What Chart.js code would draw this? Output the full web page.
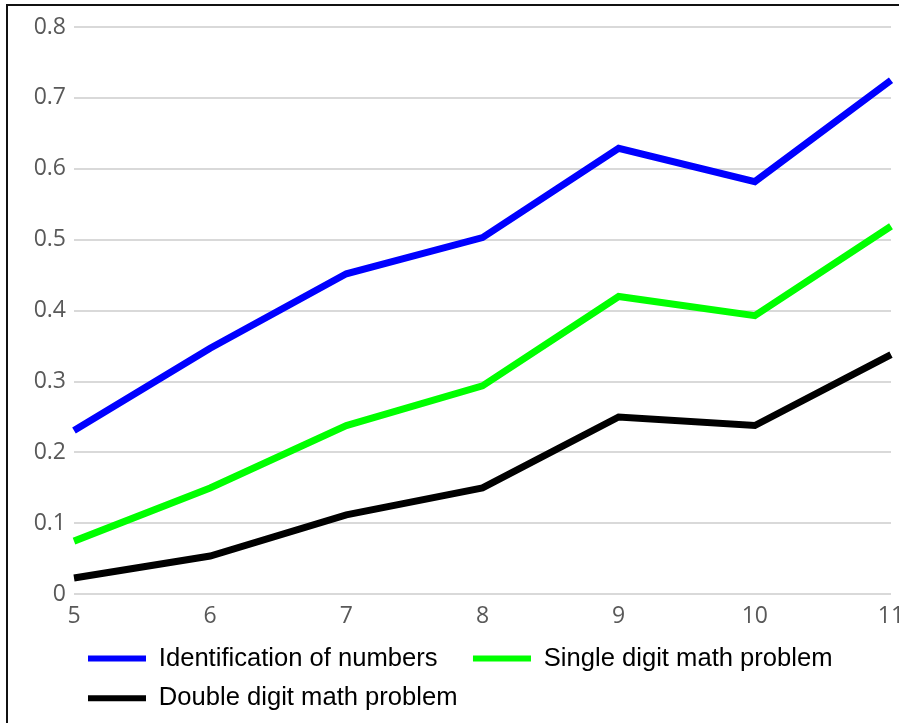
<!DOCTYPE html>
<html>
<head>
<meta charset="utf-8">
<script src="https://cdn.jsdelivr.net/npm/chart.js@4"></script>
<style>
  html, body { margin: 0; padding: 0; background: #fff; overflow: hidden; }
  #wrap { position: relative; width: 899px; height: 723px; }
  #frame {
    position: absolute; left: 6px; top: 4px; width: 900px; height: 730px;
    border-left: 2px solid #111; border-top: 2px solid #111; pointer-events: none;
  }
</style>
</head>
<body>
<div id="wrap">
  <canvas id="chart" width="899" height="723"></canvas>
  <div id="frame"></div>
</div>
<script>
// Age (x axis categories)
const ages = ['5', '6', '7', '8', '9', '10', '11'];

// Proportion of children solving each task
const identificationOfNumbers = [0.231, 0.347, 0.452, 0.503, 0.629, 0.582, 0.725];
const singleDigitMath        = [0.075, 0.150, 0.238, 0.294, 0.420, 0.393, 0.519];
const doubleDigitMath        = [0.023, 0.054, 0.112, 0.150, 0.250, 0.238, 0.338];

const seriesNames = ['Identification of numbers', 'Single digit math problem', 'Double digit math problem'];

const yMin = 0, yMax = 0.8, yStep = 0.1;

const tickFont = { family: '"Open Sans", "Noto Sans", sans-serif', size: 23 };

// Moves the legend so its rows begin under the plot area rather than at the canvas edge
const legendShift = {
  id: 'legendShift',
  afterLayout(chart) {
    if (chart.legend) chart.legend.left = chart.chartArea.left;
  }
};

function lineDataset(label, data, color) {
  return {
    label, data,
    borderColor: color,
    backgroundColor: color,
    borderWidth: 7,
    pointRadius: 0,
    pointHoverRadius: 0,
    tension: 0,
    borderJoinStyle: 'miter',
    fill: false
  };
}

new Chart(document.getElementById('chart'), {
  type: 'line',
  data: {
    labels: ages,
    datasets: [
      lineDataset(seriesNames[0], identificationOfNumbers, '#0000ff'),
      lineDataset(seriesNames[1], singleDigitMath, '#00ff00'),
      lineDataset(seriesNames[2], doubleDigitMath, '#000000')
    ]
  },
  options: {
    responsive: false,
    animation: false,
    layout: { padding: { left: 0, right: 8, top: 27, bottom: 2 } },
    plugins: {
      tooltip: { enabled: false },
      legend: {
        position: 'bottom',
        align: 'start',
        labels: {
          boxWidth: 58,
          boxHeight: 6,
          padding: 14,
          color: '#000',
          font: { family: '"Liberation Sans", Arial, sans-serif', size: 25.6 },
          generateLabels(chart) {
            const items = Chart.defaults.plugins.legend.labels.generateLabels(chart);
            items.forEach(it => { it.lineWidth = 0; it.text = it.text + '   '; });
            return items;
          }
        }
      }
    },
    scales: {
      x: {
        type: 'category',
        offset: false,
        grid: { display: false, drawTicks: false },
        border: { display: false },
        ticks: { color: '#595959', font: tickFont, padding: 8, maxRotation: 0, autoSkip: false },
        afterFit(scale) { scale.paddingRight = 0; scale.height = 37.5; }
      },
      y: {
        min: yMin,
        max: yMax,
        grid: { color: '#d9d9d9', lineWidth: 2, drawTicks: false },
        border: { display: false },
        ticks: {
          stepSize: yStep,
          color: '#595959',
          font: tickFont,
          padding: 8,
          callback: v => String(+v.toFixed(1))
        },
        afterFit(scale) { scale.width = 74; }
      }
    }
  },
  plugins: [legendShift]
});
</script>
</body>
</html>
